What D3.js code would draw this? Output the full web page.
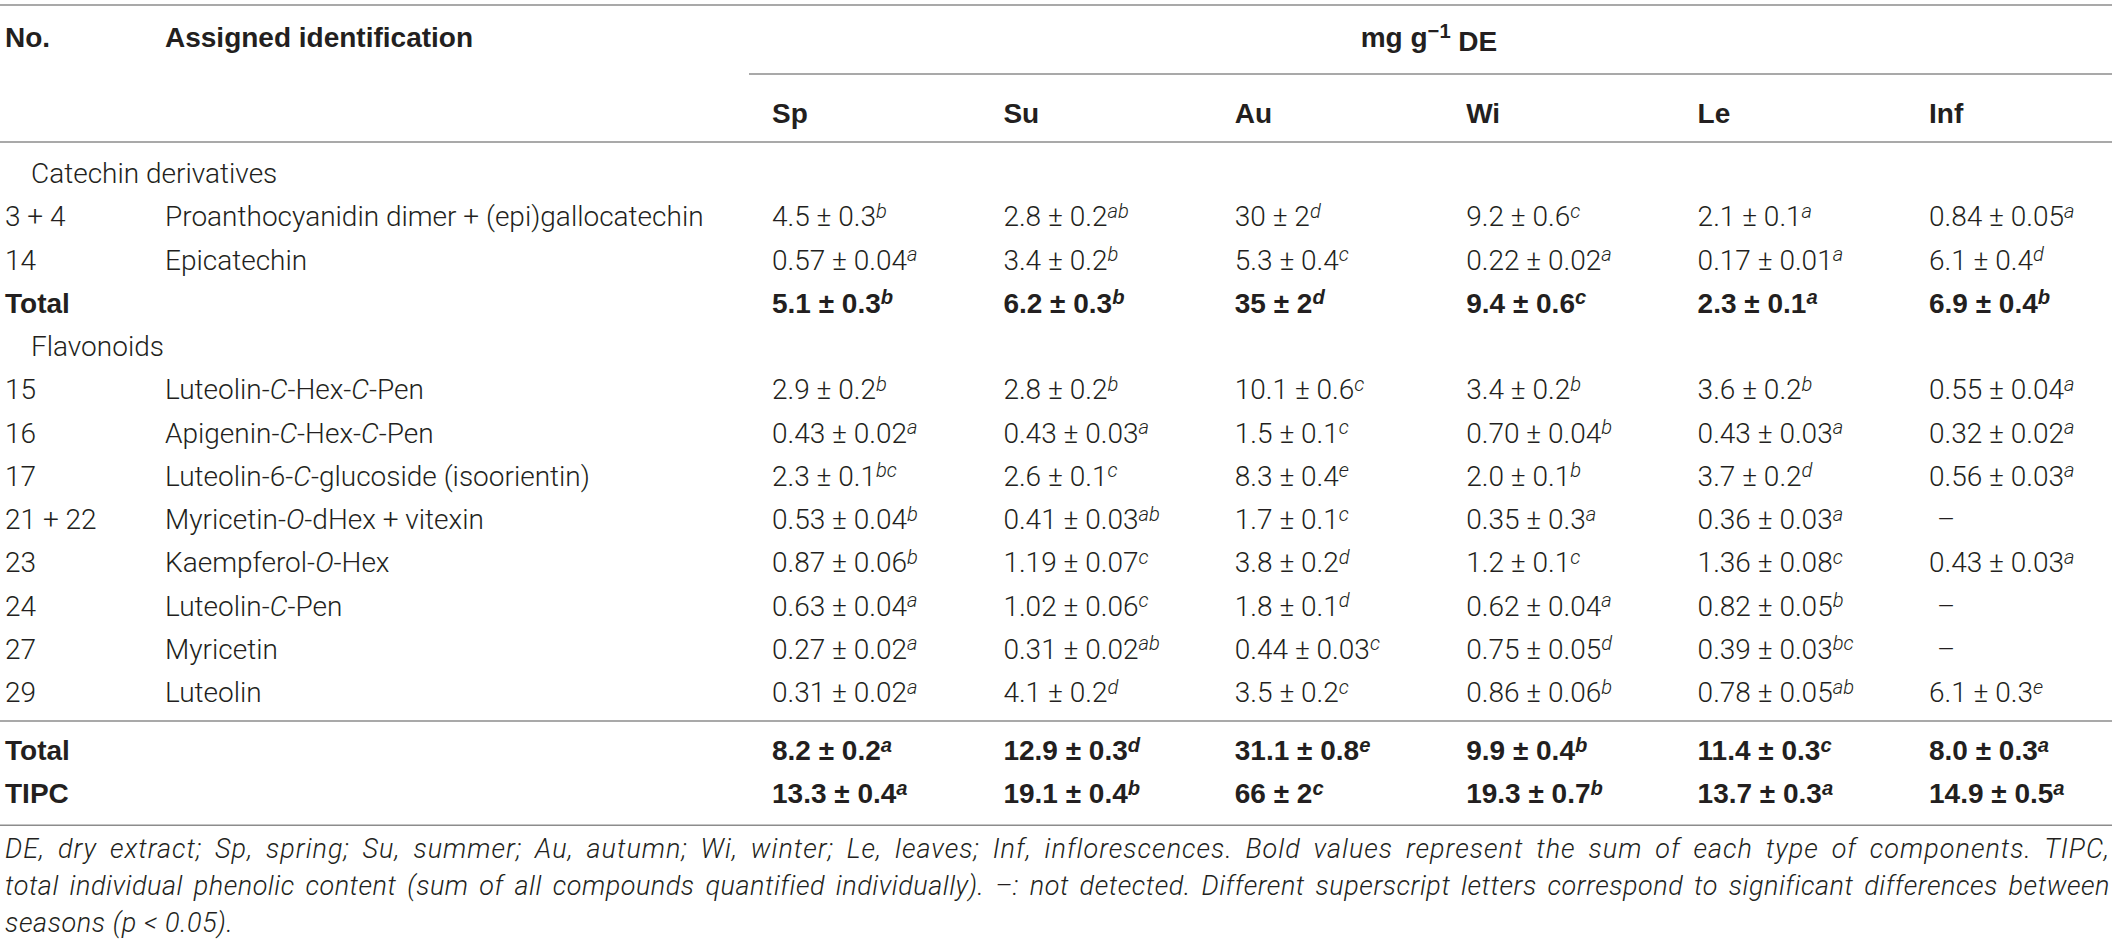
<!DOCTYPE html>
<html><head><meta charset="utf-8">
<script src="https://cdn.jsdelivr.net/npm/d3@7"></script>
<style>
html,body{margin:0;padding:0;background:#fff;}
svg{display:block;}
</style></head><body>
<svg id="chart" width="2117" height="945"></svg>
<script>
// ---------- data ----------
const seasons = ["Sp", "Su", "Au", "Wi", "Le", "Inf"];
const headerLabels = ["No.", "Assigned identification"];
const unitLabel = ["mg g", "−1", " DE"];
const groupNames = ["Catechin derivatives", "Flavonoids"];

const catechinNo = ["3 + 4", "14"];
const catechinNames = ["Proanthocyanidin dimer + (epi)gallocatechin", "Epicatechin"];
const catechinMean = [
  ["4.5", "2.8", "30", "9.2", "2.1", "0.84"],
  ["0.57", "3.4", "5.3", "0.22", "0.17", "6.1"]
];
const catechinSD = [
  ["0.3", "0.2", "2", "0.6", "0.1", "0.05"],
  ["0.04", "0.2", "0.4", "0.02", "0.01", "0.4"]
];
const catechinLetters = [
  ["b", "ab", "d", "c", "a", "a"],
  ["a", "b", "c", "a", "a", "d"]
];
const catechinTotalMean = ["5.1", "6.2", "35", "9.4", "2.3", "6.9"];
const catechinTotalSD = ["0.3", "0.3", "2", "0.6", "0.1", "0.4"];
const catechinTotalLetters = ["b", "b", "d", "c", "a", "b"];

const flavonoidNo = ["15", "16", "17", "21 + 22", "23", "24", "27", "29"];
const flavonoidNames = [
  "Luteolin-*C*-Hex-*C*-Pen",
  "Apigenin-*C*-Hex-*C*-Pen",
  "Luteolin-6-*C*-glucoside (isoorientin)",
  "Myricetin-*O*-dHex + vitexin",
  "Kaempferol-*O*-Hex",
  "Luteolin-*C*-Pen",
  "Myricetin",
  "Luteolin"
];
const flavonoidMean = [
  ["2.9", "2.8", "10.1", "3.4", "3.6", "0.55"],
  ["0.43", "0.43", "1.5", "0.70", "0.43", "0.32"],
  ["2.3", "2.6", "8.3", "2.0", "3.7", "0.56"],
  ["0.53", "0.41", "1.7", "0.35", "0.36", null],
  ["0.87", "1.19", "3.8", "1.2", "1.36", "0.43"],
  ["0.63", "1.02", "1.8", "0.62", "0.82", null],
  ["0.27", "0.31", "0.44", "0.75", "0.39", null],
  ["0.31", "4.1", "3.5", "0.86", "0.78", "6.1"]
];
const flavonoidSD = [
  ["0.2", "0.2", "0.6", "0.2", "0.2", "0.04"],
  ["0.02", "0.03", "0.1", "0.04", "0.03", "0.02"],
  ["0.1", "0.1", "0.4", "0.1", "0.2", "0.03"],
  ["0.04", "0.03", "0.1", "0.3", "0.03", null],
  ["0.06", "0.07", "0.2", "0.1", "0.08", "0.03"],
  ["0.04", "0.06", "0.1", "0.04", "0.05", null],
  ["0.02", "0.02", "0.03", "0.05", "0.03", null],
  ["0.02", "0.2", "0.2", "0.06", "0.05", "0.3"]
];
const flavonoidLetters = [
  ["b", "b", "c", "b", "b", "a"],
  ["a", "a", "c", "b", "a", "a"],
  ["bc", "c", "e", "b", "d", "a"],
  ["b", "ab", "c", "a", "a", null],
  ["b", "c", "d", "c", "c", "a"],
  ["a", "c", "d", "a", "b", null],
  ["a", "ab", "c", "d", "bc", null],
  ["a", "d", "c", "b", "ab", "e"]
];
const flavonoidTotalMean = ["8.2", "12.9", "31.1", "9.9", "11.4", "8.0"];
const flavonoidTotalSD = ["0.2", "0.3", "0.8", "0.4", "0.3", "0.3"];
const flavonoidTotalLetters = ["a", "d", "e", "b", "c", "a"];

const tipcMean = ["13.3", "19.1", "66", "19.3", "13.7", "14.9"];
const tipcSD = ["0.4", "0.4", "2", "0.7", "0.3", "0.5"];
const tipcLetters = ["a", "b", "c", "b", "a", "a"];

const footnoteLines = [
  "DE, dry extract; Sp, spring; Su, summer; Au, autumn; Wi, winter; Le, leaves; Inf, inflorescences. Bold values represent the sum of each type of components. TIPC,",
  "total individual phenolic content (sum of all compounds quantified individually). –: not detected. Different superscript letters correspond to significant differences between",
  "seasons (p < 0.05)."
];

// ---------- build rows ----------
const rows = [];
rows.push({type: "group", label: groupNames[0]});
catechinNo.forEach((n, i) => rows.push({type: "data", no: n, name: catechinNames[i], mean: catechinMean[i], sd: catechinSD[i], letters: catechinLetters[i]}));
rows.push({type: "total", no: "Total", mean: catechinTotalMean, sd: catechinTotalSD, letters: catechinTotalLetters});
rows.push({type: "group", label: groupNames[1]});
flavonoidNo.forEach((n, i) => rows.push({type: "data", no: n, name: flavonoidNames[i], mean: flavonoidMean[i], sd: flavonoidSD[i], letters: flavonoidLetters[i]}));
rows.push({type: "total", no: "Total", mean: flavonoidTotalMean, sd: flavonoidTotalSD, letters: flavonoidTotalLetters});
rows.push({type: "total", no: "TIPC", mean: tipcMean, sd: tipcSD, letters: tipcLetters});

// ---------- layout ----------
const W = 2117;
const FONT_LIGHT = "Roboto, 'Liberation Sans', Arial, sans-serif";
const FONT_BOLD = "'Liberation Sans', Arial, Helvetica, sans-serif";
const FS = 28;
const TEXT = "#231f20";
const RULE = "#8c8c8c";

const svg = d3.select("#chart");

const x = d3.scalePoint().domain(seasons).range([772, 1929]);
const yBody = d3.scaleLinear().domain([0, 12]).range([173, 692]);
const y = i => yBody(i) + (i >= 13 ? 14.75 : 0);
const colNo = 5, colName = 165, colGroup = 31;

function rule(y0, x0 = 0, x1 = W - 5) {
  svg.append("line").attr("x1", x0).attr("x2", x1).attr("y1", y0).attr("y2", y0)
    .attr("stroke", RULE).attr("stroke-width", 1.6);
}
rule(5);
rule(74, 749);
rule(142);
rule((y(12) + y(13)) / 2);
rule(y(14) + 32);

function txt(xp, yp, bold) {
  return svg.append("text").attr("x", xp).attr("y", yp).attr("dy", "0.36em")
    .attr("font-family", bold ? FONT_BOLD : FONT_LIGHT)
    .attr("font-size", FS).attr("font-weight", bold ? 700 : 300).attr("fill", TEXT);
}

// header
txt(colNo, 37, true).text(headerLabels[0]);
txt(colName, 37, true).text(headerLabels[1]);
const unit = txt((749 + W) / 2 - 4, 37, true).attr("text-anchor", "middle");
unit.append("tspan").text(unitLabel[0]);
unit.append("tspan").attr("dy", "-0.45em").attr("font-size", FS * 0.72).text(unitLabel[1]);
unit.append("tspan").attr("dy", "0.45em").text(unitLabel[2]);
seasons.forEach(s => txt(x(s), 113, true).text(s));

// body
rows.forEach((r, i) => {
  const yy = y(i);
  if (r.type === "group") {
    txt(colGroup, yy, false).text(r.label);
    return;
  }
  const bold = r.type === "total";
  txt(colNo, yy, bold).text(r.no);
  if (r.name) {
    const t = txt(colName, yy, bold);
    r.name.split("*").forEach((seg, k) => {
      if (seg) t.append("tspan").attr("font-style", k % 2 ? "italic" : "normal").text(seg);
    });
  }
  seasons.forEach((s, j) => {
    if (r.mean[j] === null) {
      txt(x(s) + 8, yy, bold).text("–");
      return;
    }
    const t = txt(x(s), yy, bold);
    t.append("tspan").text(r.mean[j] + " ± " + r.sd[j]);
    t.append("tspan").attr("dy", "-0.42em").attr("font-size", FS * 0.72)
      .attr("font-style", "italic").text(r.letters[j]);
  });
});

// footnote (justified lines)
const fy = [848, 885, 922];
const FN = 27;
footnoteLines.forEach((line, k) => {
  const t = svg.append("text").attr("x", 5).attr("y", fy[k]).attr("dy", "0.36em")
    .attr("font-family", FONT_LIGHT)
    .attr("font-size", FN).attr("font-style", "italic").attr("font-weight", 300)
    .attr("fill", TEXT).text(line);
  if (k < footnoteLines.length - 1) {
    const target = 2110 - 5;
    const natural = t.node().getComputedTextLength();
    const extra = target - natural;
    const ls = Math.max(0, extra * 0.55 / line.length);
    t.attr("letter-spacing", ls);
    const afterLs = t.node().getComputedTextLength();
    const spaces = (line.match(/ /g) || []).length;
    t.attr("word-spacing", (target - afterLs) / spaces);
  } else {
    t.attr("letter-spacing", 0.6);
  }
});
</script>
</body></html>
